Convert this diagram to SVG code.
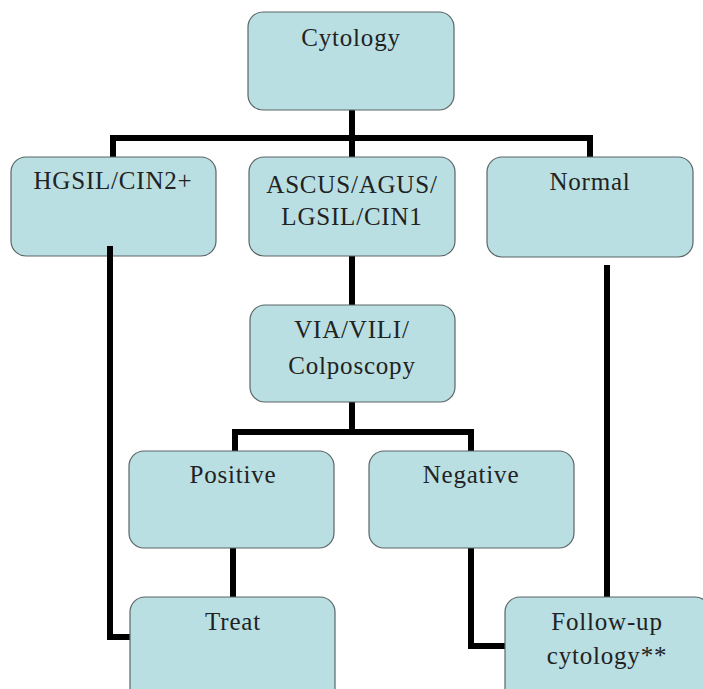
<svg xmlns="http://www.w3.org/2000/svg" width="703" height="689" viewBox="0 0 703 689">
  <style>
    .box { fill: #b9dfe2; stroke: #5a6566; stroke-width: 1.2; }
    .lbl { font-family: "Liberation Serif", "Times New Roman", serif; font-size: 25px; letter-spacing: 0.8px; fill: #222; text-anchor: middle; }
    .wire { fill: none; stroke: #000; stroke-width: 6; stroke-linejoin: miter; stroke-linecap: butt; }
  </style>
  <rect width="703" height="689" fill="#fff"/>

  <!-- connectors -->
  <g id="connectors">
    <path class="wire" d="M352 110 V138 M110 138 H593 M113 135 V157 M352 138 V157 M590 135 V157"/>
    <path class="wire" d="M352 256 V305"/>
    <path class="wire" d="M352 402 V432 M232 432 H474 M235 429 V451 M471 429 V451"/>
    <path class="wire" d="M233 548 V597"/>
    <path class="wire" d="M110 246 V637 H130"/>
    <path class="wire" d="M471 548 V646 H505"/>
    <path class="wire" d="M607 265 V597"/>
  </g>

  <g id="cytology">
    <rect class="box" x="248" y="12" width="206" height="98" rx="15"/>
    <text class="lbl" x="351" y="46">Cytology</text>
  </g>
  <g id="hgsil">
    <rect class="box" x="11" y="157" width="205" height="99" rx="15"/>
    <text class="lbl" x="113" y="189">HGSIL/CIN2+</text>
  </g>
  <g id="ascus">
    <rect class="box" x="249" y="157" width="206" height="99" rx="15"/>
    <text class="lbl" x="352" y="193">ASCUS/AGUS/</text>
    <text class="lbl" x="352" y="225">LGSIL/CIN1</text>
  </g>
  <g id="normal">
    <rect class="box" x="487" y="157" width="206" height="100" rx="15"/>
    <text class="lbl" x="590" y="190">Normal</text>
  </g>
  <!-- HGSIL wire starts just inside its box -->
  <path class="wire" d="M110 246 V257"/>
  <g id="via">
    <rect class="box" x="250" y="305" width="205" height="97" rx="15"/>
    <text class="lbl" x="352" y="338">VIA/VILI/</text>
    <text class="lbl" x="352" y="374">Colposcopy</text>
  </g>
  <g id="positive">
    <rect class="box" x="129" y="451" width="205" height="97" rx="15"/>
    <text class="lbl" x="233" y="483">Positive</text>
  </g>
  <g id="negative">
    <rect class="box" x="369" y="451" width="205" height="97" rx="15"/>
    <text class="lbl" x="471" y="483">Negative</text>
  </g>
  <g id="treat">
    <rect class="box" x="130" y="597" width="205" height="110" rx="15"/>
    <text class="lbl" x="233" y="630">Treat</text>
  </g>
  <g id="followup">
    <rect class="box" x="505" y="597" width="205" height="110" rx="15"/>
    <text class="lbl" x="607" y="630">Follow-up</text>
    <text class="lbl" x="607" y="664">cytology**</text>
  </g>
</svg>
